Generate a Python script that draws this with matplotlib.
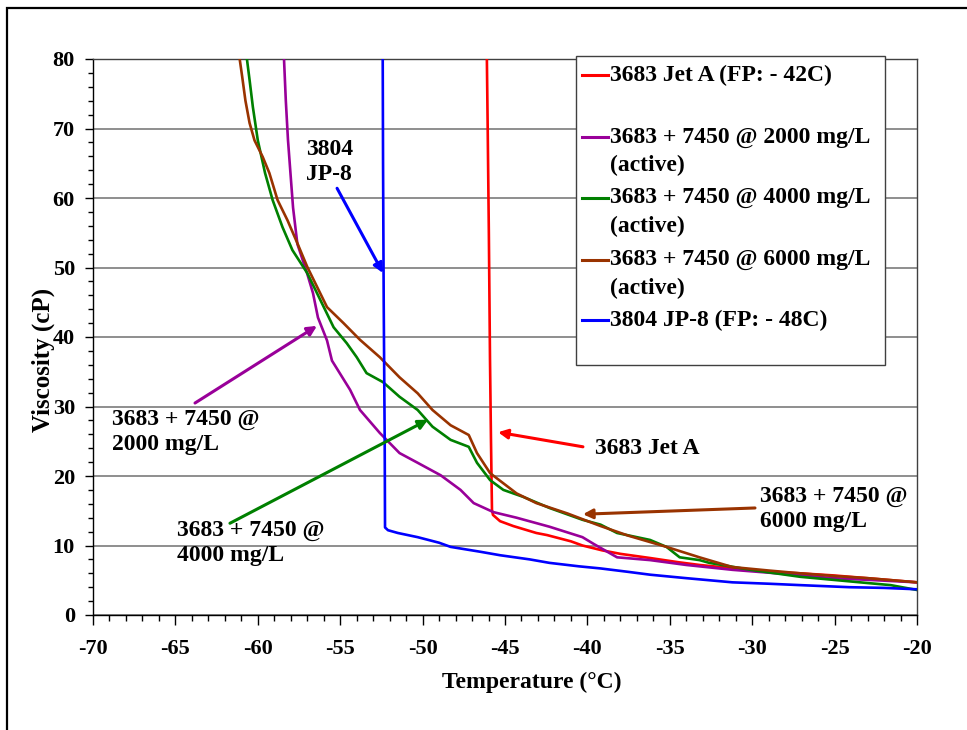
import matplotlib.pyplot as plt
from matplotlib.patches import Rectangle
from matplotlib.lines import Line2D
from matplotlib.ticker import MultipleLocator

# ---- data (temperature in C, viscosity in cP) ----
RED_T = [-46.10, -46.05, -45.98, -45.91, -45.85, -45.79, -45.73, -45.30, -44.50, -43.10, -42.45, -41.00,
         -40.30, -39.10, -38.00, -36.20, -34.50, -33.20, -31.50, -29.50, -27.10, -25.10, -22.50, -20.00]
RED_V = [80.0, 70.0, 55.0, 36.7, 25.0, 15.1, 14.4, 13.5, 12.8, 11.8, 11.5, 10.6,
         10.0, 9.3, 8.8, 8.2, 7.6, 7.2, 6.8, 6.3, 6.0, 5.7, 5.2, 4.7]

PURPLE_T = [-58.41, -58.30, -58.17, -58.00, -57.86, -57.60, -57.00, -56.65, -56.35, -55.80, -55.50, -54.40,
            -53.80, -52.60, -51.40, -50.30, -48.90, -47.70, -46.90, -45.70, -44.30, -42.30, -40.30, -39.60,
            -38.20, -36.20, -34.00, -31.20, -28.00, -25.10, -22.50, -20.00]
PURPLE_V = [80.0, 74.0, 68.4, 63.0, 58.6, 53.4, 49.1, 46.3, 42.8, 39.5, 36.6, 32.4,
            29.5, 26.2, 23.3, 21.9, 20.1, 18.0, 16.1, 14.8, 14.0, 12.7, 11.2, 10.2,
            8.3, 7.9, 7.2, 6.5, 5.9, 5.3, 5.0, 4.7]

GREEN_T = [-60.66, -60.50, -60.30, -60.00, -59.56, -59.10, -58.50, -57.90, -57.00, -56.20, -55.40, -54.60,
           -54.00, -53.40, -52.40, -51.40, -50.30, -49.40, -48.30, -47.20, -46.70, -45.90, -45.10, -43.90,
           -42.30, -40.30, -39.20, -38.20, -36.20, -35.20, -34.40, -33.20, -32.60, -30.10, -27.10, -23.00,
           -21.60, -20.00]
GREEN_V = [80.0, 77.0, 73.1, 68.3, 63.6, 59.7, 55.8, 52.5, 49.2, 45.3, 41.4, 39.1,
           37.1, 34.8, 33.5, 31.4, 29.5, 27.1, 25.2, 24.2, 21.9, 19.4, 18.0, 17.0,
           15.4, 13.7, 13.0, 11.8, 10.8, 9.8, 8.3, 7.9, 7.5, 6.5, 5.5, 4.6,
           4.3, 3.6]

BROWN_T = [-61.10, -60.95, -60.75, -60.50, -60.20, -59.70, -59.30, -58.80, -58.20, -57.60, -57.00, -56.40,
           -55.80, -54.80, -53.80, -52.60, -51.40, -50.30, -49.40, -48.30, -47.20, -46.70, -45.90, -44.30,
           -43.10, -41.20, -39.20, -37.50, -35.20, -33.20, -31.20, -29.00, -27.10, -25.00, -23.00, -20.00]
BROWN_V = [80.0, 77.5, 74.0, 70.8, 68.3, 65.9, 63.6, 59.7, 56.8, 53.5, 50.1, 47.2,
           44.3, 42.0, 39.6, 37.1, 34.2, 31.9, 29.5, 27.3, 25.9, 23.3, 20.4, 17.5,
           16.1, 14.6, 12.8, 11.4, 9.8, 8.3, 6.9, 6.4, 6.0, 5.6, 5.3, 4.7]

BLUE_T = [-52.42, -52.40, -52.36, -52.30, -52.28, -52.10, -51.50, -50.30, -49.00, -48.30, -46.50, -45.30,
          -43.50, -42.30, -40.50, -39.20, -37.50, -36.20, -34.00, -31.20, -29.00, -27.10, -24.10, -22.00, -20.00]
BLUE_V = [80.0, 65.0, 45.0, 25.0, 12.6, 12.2, 11.8, 11.2, 10.4, 9.8, 9.1, 8.6,
          8.0, 7.5, 7.0, 6.7, 6.2, 5.8, 5.3, 4.7, 4.5, 4.3, 4.0, 3.9, 3.7]

SERIES_LABELS = ["3683 Jet A (FP: - 42C)\n",
                 "3683 + 7450 @ 2000 mg/L\n(active)",
                 "3683 + 7450 @ 4000 mg/L\n(active)",
                 "3683 + 7450 @ 6000 mg/L\n(active)",
                 "3804 JP-8 (FP: - 48C)\n"]
COLORS = ['#ff0000', '#990099', '#008000', '#993300', '#0000ff']

X_TICKS = list(range(-70, -19, 5))
Y_TICKS = list(range(0, 81, 10))

plt.rcParams['font.family'] = ['Liberation Serif', 'DejaVu Serif']
plt.rcParams['font.weight'] = 'bold'
plt.rcParams['axes.unicode_minus'] = False

W, H = 967, 730


def fx(px):
    return px / W


def fy(py):
    return 1 - py / H


fig = plt.figure(figsize=(W / 100, H / 100), dpi=100)

# outer frame of the chart object
fig.patches.append(Rectangle((fx(7), fy(H + 20)), 2, fy(8) - fy(H + 20), transform=fig.transFigure,
                             fill=False, edgecolor='black', lw=1.6))

ax = fig.add_axes([fx(93), fy(615), (917 - 93) / W, (615 - 59) / H])

series = [(RED_T, RED_V), (PURPLE_T, PURPLE_V), (GREEN_T, GREEN_V), (BROWN_T, BROWN_V), (BLUE_T, BLUE_V)]
for (t, v), c in zip(series, COLORS):
    ax.plot(t, v, color=c, lw=1.9, solid_joinstyle='round', zorder=3)

ax.set_xlim(-70, -20)
ax.set_ylim(0, 80)
ax.set_xticks(X_TICKS)
ax.set_yticks(Y_TICKS)
ax.xaxis.set_minor_locator(MultipleLocator(1))
ax.yaxis.set_minor_locator(MultipleLocator(2))
ax.tick_params(axis='x', which='major', length=7, width=1, pad=10, labelsize=16)
ax.tick_params(axis='x', which='minor', length=4.5, width=1)
ax.tick_params(axis='y', which='major', length=6, width=1, pad=7, labelsize=16)
ax.tick_params(axis='y', which='minor', length=3.5, width=1)
ax.yaxis.grid(True, which='major', color='#707070', lw=1.1)
ax.set_axisbelow(True)
for s in ax.spines.values():
    s.set_linewidth(1.0)
ax.spines['top'].set_color('#404040')
ax.spines['right'].set_color('#404040')

fig.text(fx(532), fy(682), "Temperature (°C)", ha='center', va='center', fontsize=17, fontweight='bold')
fig.text(fx(43), fy(360), "Viscosity (cP)", ha='center', va='center', rotation=90, fontsize=18,
         fontweight='bold')

# arrows with callout text
notes = [
    ("3804\nJP-8", (-57.07, 65.2), (-55.19, 61.4), (-52.40, 49.2), COLORS[4]),
    ("3683 + 7450 @\n2000 mg/L", (-68.85, 26.3), (-63.81, 30.5), (-56.41, 41.6), COLORS[1]),
    ("3683 + 7450 @\n4000 mg/L", (-64.90, 10.4), (-61.69, 13.2), (-49.67, 28.1), COLORS[2]),
    ("3683 Jet A", (-39.54, 23.9), (-40.27, 24.2), (-45.42, 26.3), COLORS[0]),
    ("3683 + 7450 @\n6000 mg/L", (-29.53, 15.2), (-29.83, 15.4), (-40.27, 14.5), COLORS[3]),
]
for txt, tpos, start, end, c in notes:
    ax.annotate('', xy=end, xytext=start,
                arrowprops=dict(arrowstyle='-|>', color=c, lw=2.2, mutation_scale=14, shrinkA=0, shrinkB=0),
                zorder=5)
    ax.text(tpos[0], tpos[1], txt, ha='left', va='center', fontsize=17, fontweight='bold',
            linespacing=1.25, zorder=6)

# legend box drawn like the source (handle sits on the first text line)
fig.patches.append(Rectangle((fx(576), fy(365)), fx(885) - fx(576), fy(56) - fy(365),
                             transform=fig.transFigure, facecolor='white', edgecolor='#404040', lw=1.0,
                             zorder=10))
leg_rows = [75, 137, 198, 260, 320]
for row, lab, c in zip(leg_rows, SERIES_LABELS, COLORS):
    fig.lines.append(Line2D([fx(582), fx(608)], [fy(row), fy(row)], transform=fig.transFigure,
                            color=c, lw=2.2, zorder=11))
    for i, line in enumerate(lab.split('\n')):
        if line:
            fig.text(fx(610), fy(row + i * 28.5), line, ha='left', va='center', fontsize=17,
                     fontweight='bold', zorder=12)

fig.savefig('out.png', dpi=100)
